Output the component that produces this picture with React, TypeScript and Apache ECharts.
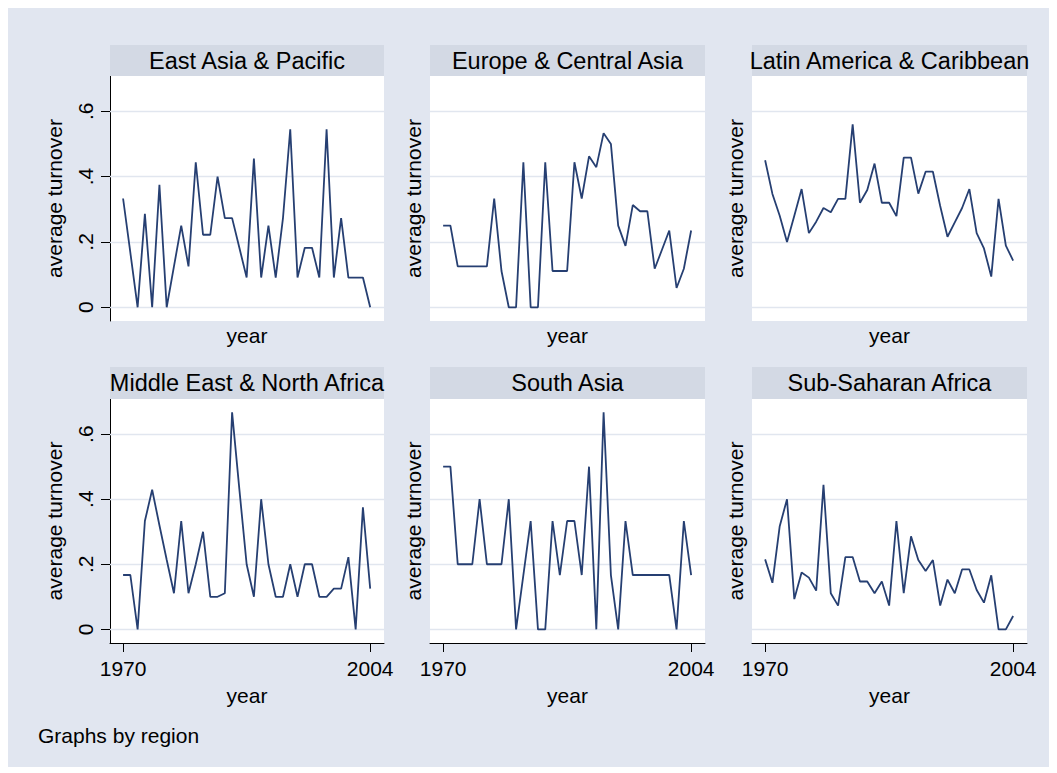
import React, { useEffect, useRef } from "react";
import * as echarts from "echarts";

const years = [
  1970, 1971, 1972, 1973, 1974, 1975, 1976, 1977, 1978, 1979, 1980, 1981,
  1982, 1983, 1984, 1985, 1986, 1987, 1988, 1989, 1990, 1991, 1992, 1993,
  1994, 1995, 1996, 1997, 1998, 1999, 2000, 2001, 2002, 2003, 2004,
];

const regions = [
  "East Asia & Pacific",
  "Europe & Central Asia",
  "Latin America & Caribbean",
  "Middle East & North Africa",
  "South Asia",
  "Sub-Saharan Africa",
];

const eastAsia = [0.333, 0.167, 0, 0.286, 0, 0.375, 0, 0.125, 0.25, 0.125, 0.444, 0.222, 0.222, 0.4, 0.273, 0.273, 0.182, 0.091, 0.455, 0.091, 0.25, 0.091, 0.273, 0.545, 0.091, 0.182, 0.182, 0.091, 0.545, 0.091, 0.273, 0.091, 0.091, 0.091, 0];
const europe = [0.25, 0.25, 0.125, 0.125, 0.125, 0.125, 0.125, 0.333, 0.111, 0, 0, 0.444, 0, 0, 0.444, 0.111, 0.111, 0.111, 0.444, 0.333, 0.462, 0.429, 0.533, 0.5, 0.25, 0.188, 0.313, 0.294, 0.294, 0.118, 0.176, 0.235, 0.059, 0.118, 0.235];
const latin = [0.45, 0.347, 0.28, 0.2, 0.28, 0.362, 0.227, 0.262, 0.304, 0.291, 0.332, 0.332, 0.56, 0.32, 0.359, 0.44, 0.32, 0.32, 0.279, 0.458, 0.458, 0.348, 0.415, 0.415, 0.31, 0.216, 0.26, 0.304, 0.362, 0.227, 0.18, 0.094, 0.332, 0.189, 0.143];
const mena = [0.167, 0.167, 0, 0.333, 0.429, 0.32, 0.214, 0.111, 0.333, 0.111, 0.2, 0.3, 0.1, 0.1, 0.111, 0.667, 0.43, 0.2, 0.1, 0.4, 0.2, 0.1, 0.1, 0.2, 0.1, 0.2, 0.2, 0.1, 0.1, 0.125, 0.125, 0.222, 0, 0.375, 0.125];
const southAsia = [0.5, 0.5, 0.2, 0.2, 0.2, 0.4, 0.2, 0.2, 0.2, 0.4, 0, 0.167, 0.333, 0, 0, 0.333, 0.167, 0.333, 0.333, 0.167, 0.5, 0, 0.667, 0.167, 0, 0.333, 0.167, 0.167, 0.167, 0.167, 0.167, 0.167, 0, 0.333, 0.167];
const subSahara = [0.215, 0.143, 0.317, 0.4, 0.093, 0.175, 0.159, 0.119, 0.444, 0.111, 0.073, 0.222, 0.222, 0.147, 0.147, 0.111, 0.147, 0.073, 0.333, 0.111, 0.286, 0.213, 0.179, 0.213, 0.073, 0.153, 0.111, 0.184, 0.184, 0.121, 0.082, 0.166, 0, 0, 0.041];

const seriesValues = [eastAsia, europe, latin, mena, southAsia, subSahara];

const yTicks = [0, 0.2, 0.4, 0.6];
const xTicks = [1970, 2004];

const FONT = "'Liberation Sans', Arial, Helvetica, sans-serif";
const BG = "#E1E6F0";
const STRIP = "#D3D9E4";
const GRIDLINE = "#E1E6EF";
const LINE = "#263F72";

const lefts = [104, 424, 746];
const widths = [274, 275, 275];
const tops = [68, 391];
const heights = [245, 244];
const stripTops = [37, 359];
const stripHeights = [31, 32];

function fmtY(v: number) {
  if (v === 0) return "0";
  return String(Math.round(v * 10) / 10).replace(/^0/, "");
}

export default function App() {
  const ref = useRef<HTMLDivElement>(null);

  useEffect(() => {
    if (!ref.current) return;
    const chart = echarts.init(ref.current, undefined, { renderer: "svg" });

    const grid: any[] = [];
    const xAxis: any[] = [];
    const yAxis: any[] = [];
    const series: any[] = [];
    const graphic: any[] = [];

    for (let i = 0; i < 6; i++) {
      const r = Math.floor(i / 3);
      const c = i % 3;
      grid.push({
        left: lefts[c],
        top: tops[r],
        width: widths[c],
        height: heights[r],
        show: true,
        backgroundColor: "#ffffff",
        borderWidth: 0,
        containLabel: false,
        outerBoundsMode: "none",
      });
      xAxis.push({
        type: "value",
        gridIndex: i,
        min: 1968.2,
        max: 2005.9,
        name: "year",
        nameLocation: "middle",
        nameGap: r === 1 ? 42 : 4,
        nameTextStyle: { fontSize: 21, color: "#000", fontFamily: FONT },
        axisLine: { show: r === 1, onZero: false, lineStyle: { color: "#000", width: 1 } },
        axisTick: { show: r === 1, length: 9, customValues: xTicks, lineStyle: { color: "#000", width: 1 } },
        axisLabel: {
          show: r === 1,
          customValues: xTicks,
          margin: 15,
          fontSize: 21,
          color: "#000",
          fontFamily: FONT,
          formatter: (v: number) => String(Math.round(v)),
        },
        splitLine: { show: false },
      });
      yAxis.push({
        type: "value",
        gridIndex: i,
        min: -0.042,
        max: 0.708,
        name: "average turnover",
        nameLocation: "middle",
        nameRotate: 90,
        nameGap: c === 0 ? 45 : 6,
        nameTextStyle: { fontSize: 21, color: "#000", fontFamily: FONT },
        axisLine: { show: c === 0, onZero: false, lineStyle: { color: "#000", width: 1 } },
        axisTick: { show: c === 0, length: 9, customValues: yTicks, lineStyle: { color: "#000", width: 1 } },
        axisLabel: {
          show: c === 0,
          customValues: yTicks,
          rotate: 90,
          margin: 14,
          fontSize: 21,
          color: "#000",
          fontFamily: FONT,
          formatter: (v: number) => fmtY(v),
        },
        splitLine: { show: false },
      });
      series.push({
        type: "line",
        xAxisIndex: i,
        yAxisIndex: i,
        data: years.map((yr, k) => [yr, seriesValues[i][k]]),
        symbol: "none",
        showSymbol: false,
        z: 3,
        lineStyle: { color: LINE, width: 1.8 },
        markLine: {
          silent: true,
          symbol: "none",
          z: 1,
          animation: false,
          label: { show: false },
          emphasis: { disabled: true },
          lineStyle: { color: GRIDLINE, width: 1.3, type: "solid" },
          data: yTicks.map((v) => ({ yAxis: v })),
        },
      });
      graphic.push({
        type: "rect",
        shape: { x: lefts[c], y: stripTops[r], width: widths[c], height: stripHeights[r] },
        style: { fill: STRIP },
        z: 1,
      });
      graphic.push({
        type: "text",
        x: lefts[c] + widths[c] / 2,
        y: stripTops[r] + stripHeights[r] / 2,
        z: 2,
        style: {
          text: regions[i],
          fill: "#000",
          fontSize: 23.5,
          fontFamily: FONT,
          textAlign: "center",
          textVerticalAlign: "middle",
          align: "center",
          verticalAlign: "middle",
        },
      });
    }

    graphic.push({
      type: "text",
      x: 32,
      y: 727,
      style: {
        text: "Graphs by region",
        fill: "#000",
        fontSize: 21,
        fontFamily: FONT,
        textAlign: "left",
        textVerticalAlign: "middle",
        align: "left",
        verticalAlign: "middle",
      },
    });

    chart.setOption({
      animation: false,
      backgroundColor: BG,
      grid,
      xAxis,
      yAxis,
      series,
      graphic,
    });

    return () => chart.dispose();
  }, []);

  return (
    <div
      ref={ref}
      style={{ width: 1045, height: 759, marginLeft: -2 }}
    />
  );
}
